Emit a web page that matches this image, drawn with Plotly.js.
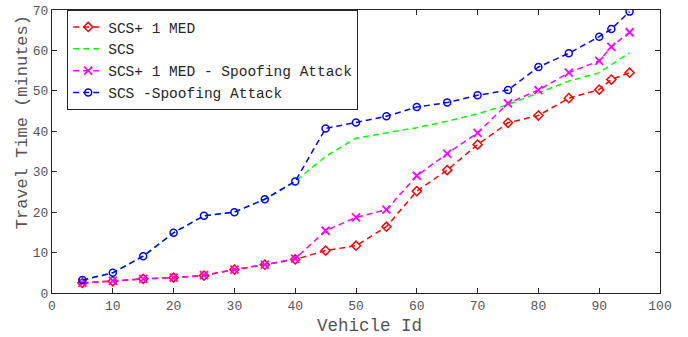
<!DOCTYPE html>
<html>
<head>
<meta charset="utf-8">
<script src="https://cdn.plot.ly/plotly-3.0.1.min.js"></script>
<style>html,body{margin:0;padding:0;background:#fff;}#chart{width:688px;height:337px;}</style>
</head>
<body>
<div id="chart"></div>
<script>
const vehicleId = [5, 10, 15, 20, 25, 30, 35, 40, 45, 50, 55, 60, 65, 70, 75, 80, 85, 90, 92, 95];
const scsMed = [2.5, 2.9, 3.5, 3.8, 4.3, 5.8, 7.0, 8.3, 10.5, 11.7, 16.4, 25.2, 30.4, 36.7, 42.1, 43.9, 48.2, 50.3, 52.8, 54.5];
const scs = [3.2, 5.0, 9.1, 14.9, 19.1, 20.0, 23.2, 27.6, 33.8, 38.3, 39.6, 40.9, 42.5, 44.3, 46.6, 49.5, 52.4, 54.5, 56.5, 59.4];
const scsMedSpoof = [2.5, 3.0, 3.5, 3.8, 4.4, 5.8, 7.0, 8.5, 15.4, 18.7, 20.6, 29.0, 34.5, 39.6, 46.9, 50.2, 54.5, 57.4, 60.9, 64.5];
const scsSpoof = [3.2, 5.0, 9.1, 14.9, 19.1, 20.0, 23.2, 27.6, 40.7, 42.2, 43.7, 46.0, 47.1, 48.9, 50.2, 55.9, 59.3, 63.4, 65.3, 69.6];
const seriesNames = ['SCS+ 1 MED', 'SCS', 'SCS+ 1 MED - Spoofing Attack', 'SCS -Spoofing Attack'];
const xTicks = [0, 10, 20, 30, 40, 50, 60, 70, 80, 90, 100];
const yTicks = [0, 10, 20, 30, 40, 50, 60, 70];
const xTitle = 'Vehicle Id';
const yTitle = 'Travel Time (minutes)';

const mono = 'Liberation Mono, Courier New, monospace';
const dashPat = '6px,4px';
const traces = [
  {x: vehicleId, y: scsMed, name: seriesNames[0], mode: 'lines+markers',
   line: {color: '#ff0000', dash: dashPat, width: 1.5},
   marker: {symbol: 'diamond-open', size: 7, color: '#ff0000', line: {width: 1.5}}},
  {x: vehicleId, y: scs, name: seriesNames[1], mode: 'lines',
   line: {color: '#00ff00', dash: dashPat, width: 1.5}},
  {x: vehicleId, y: scsMedSpoof, name: seriesNames[2], mode: 'lines+markers',
   line: {color: '#ff00ff', dash: dashPat, width: 1.5},
   marker: {symbol: 'x-thin-open', size: 8, color: '#ff00ff', line: {width: 1.8, color: '#ff00ff'}}},
  {x: vehicleId, y: scsSpoof, name: seriesNames[3], mode: 'lines+markers',
   line: {color: '#0000ff', dash: dashPat, width: 1.5},
   marker: {symbol: 'circle-open', size: 7, color: '#0000ff', line: {width: 1.5}}}
];

const axisCommon = {
  showgrid: false, zeroline: false, showline: true, mirror: 'ticks',
  linecolor: '#262626', linewidth: 1, ticks: 'inside', ticklen: 5, tickcolor: '#262626',
  tickfont: {family: mono, size: 13, color: '#555555'}
};

const layout = {
  width: 688, height: 337,
  margin: {l: 52, r: 28, t: 10, b: 44},
  paper_bgcolor: '#ffffff', plot_bgcolor: '#ffffff',
  showlegend: true,
  xaxis: Object.assign({}, axisCommon, {
    range: [0, 100], tickvals: xTicks, ticktext: xTicks.map(String)
  }),
  yaxis: Object.assign({}, axisCommon, {
    range: [0, 70], tickvals: yTicks, ticktext: yTicks.map(String)
  }),
  annotations: [
    {text: xTitle, xref: 'paper', yref: 'paper', x: 0.523, y: -0.115, xanchor: 'center', yanchor: 'middle',
     showarrow: false, font: {family: mono, size: 17.5, color: '#555555'}},
    {text: yTitle, xref: 'paper', yref: 'paper', x: -0.049, y: 0.604, xanchor: 'center', yanchor: 'middle',
     textangle: -90, showarrow: false, font: {family: mono, size: 17, color: '#555555'}}
  ],
  legend: {
    x: 0.025, y: 1, xanchor: 'left', yanchor: 'top',
    bgcolor: '#ffffff', bordercolor: '#262626', borderwidth: 1,
    font: {family: mono, size: 14.5, color: '#262626'},
    tracegroupgap: 0, itemwidth: 30
  }
};

Plotly.newPlot('chart', traces, layout, {displayModeBar: false, staticPlot: true});
</script>
</body>
</html>
